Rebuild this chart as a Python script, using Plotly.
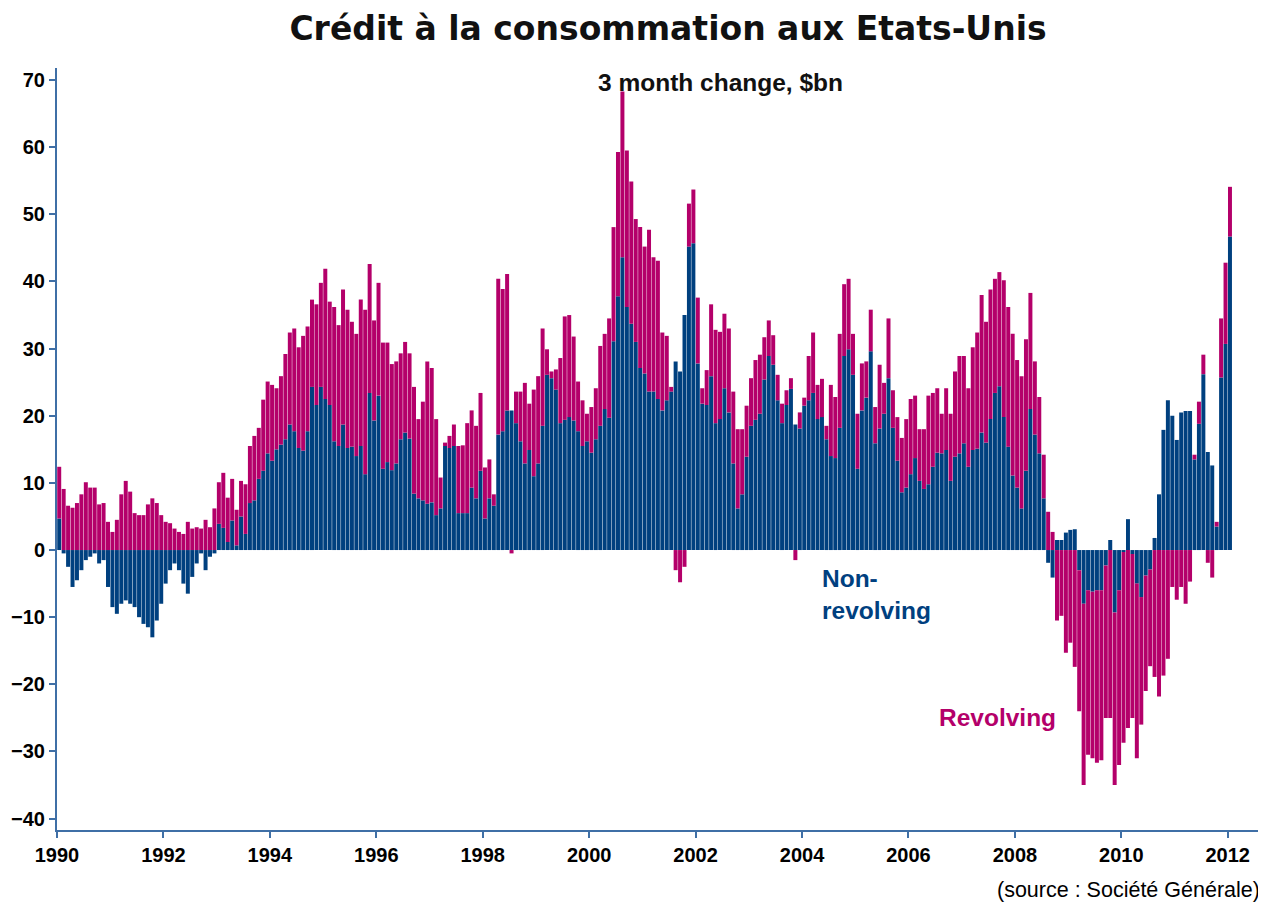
import plotly.graph_objects as go

# monthly 3-month change, $bn, Jan 1990 .. Jan 2012
start_year = 1990

nonrevolving = [
    4.7, -0.5, -2.5, -5.5, -4.5, -3.0, -1.5, -1.0, -0.5, -2.0, -1.5, -5.5,
    -8.5, -9.5, -8.0, -7.5, -8.0, -8.5, -10.0, -11.0, -11.5, -13.0, -10.5, -8.0,
    -5.0, -3.0, -2.0, -3.0, -5.0, -6.5, -4.0, -2.0, -0.5, -3.0, -1.0, -0.5,
    3.9, 3.3, 1.2, 4.4, 0.7, 5.0, 2.4, 7.0, 7.4, 10.6, 11.8, 14.4,
    13.3, 15.0, 15.7, 16.5, 18.7, 17.7, 15.2, 14.8, 17.7, 24.3, 21.6, 24.3,
    22.5, 21.6, 16.2, 15.5, 18.7, 15.2, 15.4, 14.0, 15.5, 11.3, 23.4, 19.3,
    23.0, 12.1, 13.1, 11.9, 12.9, 16.5, 17.5, 16.6, 8.4, 7.7, 7.4, 6.9,
    7.1, 5.2, 6.2, 15.5, 15.2, 15.5, 5.5, 5.5, 5.5, 9.3, 7.7, 11.8,
    4.7, 7.7, 6.6, 17.2, 17.7, 20.8, 20.8, 18.9, 16.2, 12.9, 14.9, 11.0,
    12.9, 18.5, 26.1, 25.6, 23.9, 18.9, 19.4, 19.8, 19.3, 17.7, 15.5, 16.2,
    14.5, 16.5, 18.5, 21.0, 19.7, 31.1, 37.8, 43.6, 36.2, 33.7, 31.0, 27.1,
    26.3, 23.6, 23.6, 22.5, 20.8, 22.3, 23.6, 28.1, 26.6, 35.0, 45.2, 45.7,
    27.8, 21.8, 21.6, 25.9, 18.9, 19.5, 24.1, 20.5, 12.9, 6.2, 8.3, 13.9,
    18.5, 19.4, 20.3, 25.4, 28.9, 27.6, 22.3, 18.9, 21.6, 24.0, 18.7, 18.1,
    21.5, 22.3, 23.4, 19.5, 19.8, 16.5, 14.0, 13.7, 18.2, 28.9, 29.9, 26.1,
    12.1, 20.8, 22.7, 29.6, 15.9, 18.1, 20.3, 25.6, 18.2, 13.3, 8.6, 9.3,
    11.3, 13.7, 10.3, 9.1, 9.8, 12.4, 14.5, 14.4, 14.9, 10.3, 13.9, 14.4,
    15.9, 12.4, 14.9, 15.1, 17.5, 16.0, 19.5, 23.4, 24.4, 19.8, 15.4, 11.1,
    9.3, 6.2, 11.8, 21.0, 17.2, 14.4, 7.7, -1.9, -4.1, 1.5, 1.5, 2.6,
    3.0, 3.1, -3.0, -8.0, -6.0, -6.2, -6.0, -6.0, -2.3, 1.5, -9.3, -6.0,
    -0.3, 4.6, -0.6, -5.0, -7.0, -3.8, -2.9, 1.8, 8.3, 17.9, 22.3, 20.0,
    16.4, 20.5, 20.7, 20.7, 13.5, 18.8, 26.2, 14.6, 12.6, 3.5, 25.7, 30.7,
    46.7,
]

revolving = [
    7.7, 9.1, 6.6, 6.3, 7.0, 8.3, 10.1, 9.3, 9.3, 6.8, 7.0, 4.2,
    2.7, 4.5, 8.3, 10.3, 8.7, 5.5, 5.2, 5.2, 6.8, 7.7, 7.0, 5.2,
    4.2, 4.0, 3.2, 2.7, 2.4, 4.2, 3.2, 3.4, 3.2, 4.5, 3.4, 6.2,
    6.2, 8.2, 6.6, 6.2, 5.3, 5.3, 7.4, 8.5, 9.6, 7.6, 10.6, 10.7,
    11.3, 9.1, 10.2, 12.7, 13.7, 15.3, 15.0, 17.1, 15.6, 13.0, 15.0, 15.5,
    19.4, 15.4, 20.0, 18.0, 20.1, 20.6, 18.6, 18.2, 21.8, 24.5, 19.2, 14.9,
    16.8, 18.8, 17.8, 15.8, 15.2, 12.8, 13.5, 12.7, 15.9, 11.8, 14.7, 21.2,
    20.0, 14.3, 4.6, 0.5, 1.8, 3.2, 10.0, 10.1, 13.4, 11.5, 10.8, 11.6,
    7.6, 5.8, 1.7, 23.2, 21.2, 20.3, -0.5, 4.7, 7.4, 12.0, 6.9, 12.9,
    13.0, 14.5, 3.8, 1.0, 3.0, 9.7, 15.4, 15.2, 12.5, 7.4, 6.8, 4.1,
    6.8, 7.6, 11.9, 11.2, 14.8, 17.0, 21.5, 24.7, 23.3, 21.2, 18.3, 21.0,
    18.9, 24.1, 20.0, 20.6, 11.6, 9.6, 0.7, -3.0, -4.8, -2.5, 6.4, 8.0,
    9.8, 2.3, 5.2, 10.7, 13.9, 13.0, 11.1, 12.5, 10.7, 11.8, 9.7, 7.6,
    7.1, 8.9, 8.8, 6.3, 5.3, 4.4, 3.8, 2.9, 2.2, 1.6, -1.5, 2.4,
    1.2, 6.6, 9.0, 5.1, 5.7, 2.0, 10.6, 9.1, 14.0, 10.7, 10.5, 6.1,
    8.2, 7.0, 5.4, 6.2, 5.4, 9.5, 4.6, 8.9, 5.6, 6.5, 8.1, 10.2,
    11.2, 9.3, 7.7, 8.9, 13.2, 11.0, 9.6, 5.9, 9.2, 10.0, 12.7, 14.5,
    13.0, 11.7, 15.3, 17.3, 20.5, 18.0, 19.3, 17.0, 17.0, 20.4, 20.8, 21.1,
    19.0, 19.7, 19.6, 17.3, 10.9, 8.4, 6.5, 5.7, 2.7, -10.5, -9.8, -15.3,
    -13.8, -17.4, -21.0, -27.0, -24.5, -24.8, -25.7, -25.3, -22.7, -25.0, -25.7, -26.0,
    -28.4, -26.5, -24.4, -26.0, -19.0, -17.2, -14.4, -18.9, -21.8, -18.7, -16.2, -5.5,
    -7.4, -5.5, -8.0, -4.7, 0.7, 3.3, 2.9, -1.9, -4.1, 0.7, 8.8, 12.1,
    7.4,
]

year_ticks = list(range(1990, 2013, 2))
y_ticks = list(range(-40, 71, 10))

blue = "#00407f"
magenta = "#b4006a"
axis_col = "#3f6fa6"

months = [start_year + (i + 0.5) / 12 for i in range(len(nonrevolving))]

fig = go.Figure()
fig.add_trace(go.Bar(x=months, y=nonrevolving, name="Non-revolving",
                     marker=dict(color=blue, line=dict(width=0)), width=1 / 12 * 0.9))
fig.add_trace(go.Bar(x=months, y=revolving, name="Revolving",
                     marker=dict(color=magenta, line=dict(width=0)), width=1 / 12 * 0.9))

# page body adds 8px padding, so the figure is sized/shifted to compensate
fig.update_layout(
    barmode="relative",
    width=1258, height=900,
    margin=dict(l=49, r=1, t=60, b=78),
    plot_bgcolor="white", paper_bgcolor="white",
    showlegend=False,
    title=dict(text="<b>Crédit à la consommation aux Etats-Unis</b>",
               x=660 / 1258, xanchor="center", y=1 - 20 / 900, yanchor="middle",
               font=dict(family="DejaVu Sans", size=33, color="#111111")),
)

fig.update_xaxes(
    range=[1990, 2012.7], automargin=False,
    tickmode="array", tickvals=year_ticks, ticktext=[str(y) for y in year_ticks],
    showgrid=False, zeroline=False,
    showline=True, linecolor=axis_col, linewidth=2,
    ticks="outside", ticklen=6, tickcolor=axis_col, tickwidth=2,
    tickfont=dict(family="Liberation Sans", size=20, color="black", weight="bold"),
)
fig.update_yaxes(
    range=[-41.7, 71.8], automargin=False,
    tickmode="array", tickvals=y_ticks,
    showgrid=False, zeroline=False,
    showline=True, linecolor=axis_col, linewidth=2,
    ticks="outside", ticklen=6, tickcolor=axis_col, tickwidth=2,
    tickfont=dict(family="Liberation Sans", size=20, color="black", weight="bold"),
)

fig.add_annotation(x=2002.46, y=69.7, xref="x", yref="y", showarrow=False,
                   text="<b>3 month change, $bn</b>",
                   font=dict(family="Liberation Sans", size=24.5, color="#111111"))
fig.add_annotation(x=2004.34, y=-6.6, xref="x", yref="y", showarrow=False,
                   xanchor="left", align="left", text="<b>Non-<br>revolving</b>",
                   font=dict(family="Liberation Sans", size=24.5, color=blue))
fig.add_annotation(x=2006.54, y=-25, xref="x", yref="y", showarrow=False,
                   xanchor="left", text="<b>Revolving</b>",
                   font=dict(family="Liberation Sans", size=24.5, color=magenta))
fig.add_annotation(x=0.9975, y=-0.079, xref="paper", yref="paper",
                   showarrow=False, xanchor="right", yanchor="middle",
                   text="(source : Société Générale)",
                   font=dict(family="Liberation Sans", size=21.5, color="black"))

fig.write_html("out.html")
